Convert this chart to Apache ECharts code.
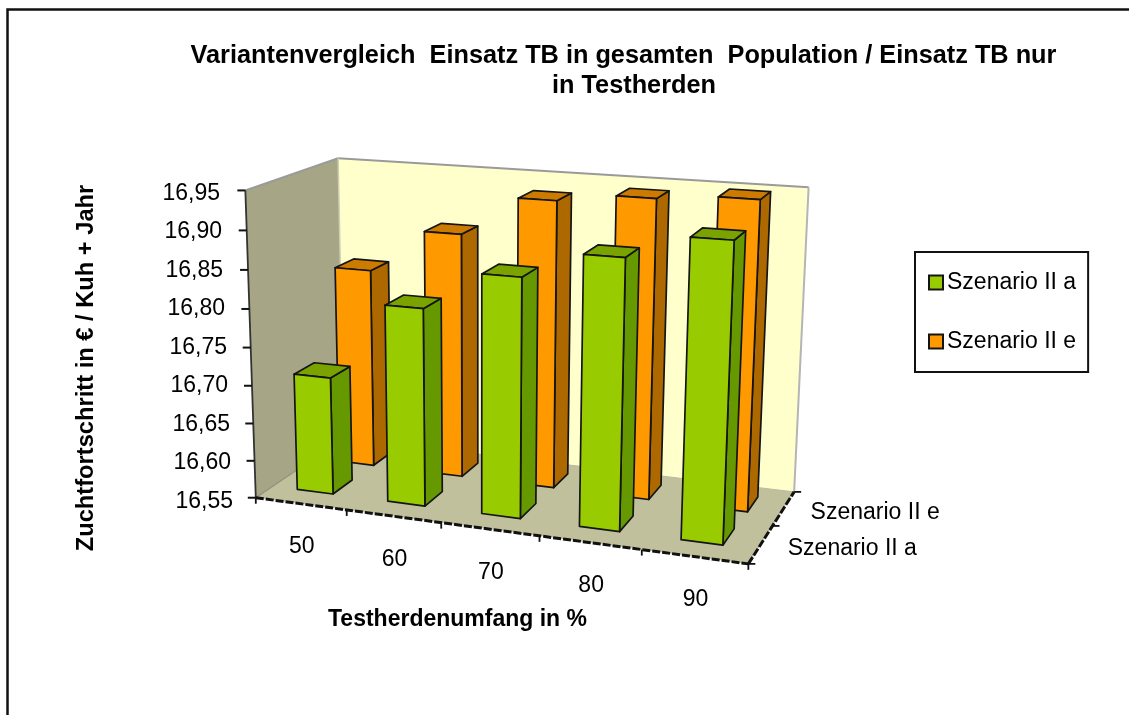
<!DOCTYPE html>
<html><head><meta charset="utf-8">
<style>html,body{margin:0;padding:0;background:#fff}#c{width:1129px;height:715px}</style>
<script src="https://cdn.jsdelivr.net/npm/echarts@6/dist/echarts.min.js"></script>
</head><body><div id="c"></div>
<script>
// ---- data ----
const categories = ['50','60','70','80','90'];
const seriesNames = ['Szenario II a','Szenario II e'];
const valuesA = [16.706,16.808,16.858,16.892,16.922];
const valuesE = [16.82,16.878,16.93,16.941,16.948];
const valueTicks = [16.55,16.60,16.65,16.70,16.75,16.80,16.85,16.90,16.95];
const titleText = 'Variantenvergleich  Einsatz TB in gesamten  Population / Einsatz TB nur   \nin Testherden';
const yTitle = 'Zuchtfortschritt in € / Kuh + Jahr';
const xTitle = 'Testherdenumfang in %';

// ---- view: calibration of the 3D plot box ----
// [u (along categories), v (depth), w (height)] -> [px,py]
const box = [
 [[0,0,0],[257,498]],[[1,0,0],[749,565]],[[1,1,0],[795,492]],[[0,1,0],[345,442]],
 [[0,0,1],[245,190]],[[1,0,1],[766,232]],[[1,1,1],[807,186]],[[0,1,1],[338,158]],
 [[1,1,1],[807,186]],[[1,1,0],[795,492]],
 [[.2,0,0],[345,509]],[[.4,0,0],[440,522]],[[.6,0,0],[538,536]],[[.8,0,0],[640,550]],
 [[1,.5,0],[773,522]],
 [[0,0,.25],[254,423]],[[0,0,.5],[251,347]],[[0,0,.75],[248,268]]
];
// least-squares projective camera
function fitCamera(pts){
  const n=11, A=Array.from({length:n},()=>new Array(n+1).fill(0));
  const add=(r,b)=>{for(let i=0;i<n;i++){for(let j=0;j<n;j++)A[i][j]+=r[i]*r[j];A[i][n]+=r[i]*b;}};
  pts.forEach(([[u,v,w],[x,y]])=>{
    add([u,v,w,1,0,0,0,0,-x*u,-x*v,-x*w],x);
    add([0,0,0,0,u,v,w,1,-y*u,-y*v,-y*w],y);
  });
  for(let i=0;i<n;i++){
    let p=i;for(let k=i+1;k<n;k++)if(Math.abs(A[k][i])>Math.abs(A[p][i]))p=k;
    [A[i],A[p]]=[A[p],A[i]];
    for(let k=0;k<n;k++){if(k===i)continue;const f=A[k][i]/A[i][i];for(let j=i;j<=n;j++)A[k][j]-=f*A[i][j];}
  }
  return A.map((r,i)=>r[n]/r[i]);
}
const C=fitCamera(box);
function P(u,v,w){const d=C[8]*u+C[9]*v+C[10]*w+1;
  return [(C[0]*u+C[1]*v+C[2]*w+C[3])/d,(C[4]*u+C[5]*v+C[6]*w+C[7])/d];}

const FONT='"Liberation Sans", Arial, sans-serif';
const GRID={left:258,top:190,right:1129-749,bottom:715-498};
const BAR_U=0.4, BAR_D=0.22, ROW_V=[0.29,0.755], ROW_U=[-0.005,-0.002];
const colors={a:{front:'#99CC00',side:'#669900',top:'#7AA300'},e:{front:'#FF9900',side:'#AD6800',top:'#CC7A00'}};
const stroke='#141414';

function poly(points,fill,lw,sc){return {type:'polygon',shape:{points},style:{fill,stroke:sc===undefined?stroke:sc,lineWidth:lw===undefined?1.7:lw,lineJoin:'round'}};}
function line(a,b,sc,lw,dash){return {type:'line',shape:{x1:a[0],y1:a[1],x2:b[0],y2:b[1]},style:{stroke:sc||'#111',lineWidth:lw||1.5,lineDash:dash||null}};}
function text(str,x,y,size,align,weight){return {type:'text',style:{text:str,x,y,fill:'#000',font:`${weight||'normal'} ${size}px ${FONT}`,align:align||'center',verticalAlign:'middle'}};}

function hFrac(api,val){ // height 0..1 via the value axis
  const b=api.coord([0,valueTicks[0]])[1], t=api.coord([0,valueTicks[valueTicks.length-1]])[1];
  return (b-api.coord([0,val])[1])/(b-t);
}
function barItem(row,col){
  return function(params,api){
    const i=api.value(0), val=api.value(1), w=hFrac(api,val), n=categories.length;
    const u0=(i+0.5-BAR_U/2)/n+ROW_U[row],u1=(i+0.5+BAR_U/2)/n+ROW_U[row];
    const v0=ROW_V[row]-BAR_D/2,v1=ROW_V[row]+BAR_D/2;
    const f=[P(u0,v0,0),P(u1,v0,0),P(u1,v0,w),P(u0,v0,w)];
    const s=[P(u1,v0,0),P(u1,v1,0),P(u1,v1,w),P(u1,v0,w)];
    const t=[P(u0,v0,w),P(u1,v0,w),P(u1,v1,w),P(u0,v1,w)];
    return {type:'group',children:[poly(s,col.side),poly(t,col.top),poly(f,col.front)]};
  };
}
const LABEL_DX=1,LABEL_DY=43,DEPTH_DX=27,DEPTH_DY=4;
function wallItem(params,api){
  const c=[];
  // walls
  c.push(poly([P(0,1,0),P(1,1,0),P(1,1,1),P(0,1,1)],'#FFFFCC',0,'transparent'));
  c.push(poly([P(0,0,0),P(0,1,0),P(0,1,1),P(0,0,1)],'#A6A686',0,'transparent'));
  c.push(poly([P(0,0,0),P(1,0,0),P(1,1,0),P(0,1,0)],'#C0C09C',0,'transparent'));
  // wall rims
  c.push(line(P(0,0,1),P(0,1,1),'#9a9a9a',2));
  c.push(line(P(0,1,1),P(1,1,1),'#9a9a9a',2));
  c.push(line(P(1,1,1),P(1,1,0),'#b5b5b5',2));
  c.push(line(P(0,1,1),P(0,1,0),'#cfcfb8',1.5));
  c.push(line(P(0,0,0),P(0,1,0),'#8f8f80',1.2));
  c.push(line(P(0,1,0),P(1,1,0),'#b8b8a0',1));
  // axis lines
  c.push(line(P(0,0,1),P(0,0,0),'#333',1.8));
  c.push(line(P(0,0,0),P(1,0,0),'#111',3,[8,2]));
  c.push(line(P(1,0,0),P(1,1,0),'#111',3,[8,2]));
  // value ticks
  valueTicks.forEach(t=>{const p=P(0,0,hFrac(api,t));c.push(line([p[0]-8,p[1]],p,'#111',2));});
  // category ticks & labels
  const n=categories.length;
  for(let i=0;i<=n;i++){const p=P(i/n,0,0);c.push(line(p,[p[0],p[1]+6],'#111',1.8));}
  categories.forEach((s,i)=>{const p=P((i+0.5)/n,0,0);c.push(text(s,p[0]+LABEL_DX,p[1]+LABEL_DY,23));});
  // depth ticks & labels
  [0,0.5,1].forEach(v=>{const p=P(1,v,0);c.push(line(p,[p[0]+7,p[1]],'#111',1.8));});
  seriesNames.forEach((s,r)=>{const p=P(1,(r+0.5)/2,0);c.push(text(s,p[0]+DEPTH_DX,p[1]+DEPTH_DY,23,'left'));});
  return {type:'group',children:c};
}

const chart=echarts.init(document.getElementById('c'),null,{renderer:'canvas'});
// per-tick label shift: the value axis leans with the plot box
const rich={};
valueTicks.forEach((t,i)=>{
  const f=(t-valueTicks[0])/(valueTicks[valueTicks.length-1]-valueTicks[0]);
  const shift=Math.round(1.25*(P(0,0,0)[0]-P(0,0,f)[0]));
  rich['p'+i]={padding:[7,shift,0,0],fontSize:23,color:'#000',fontFamily:FONT};
});
chart.setOption({
  animation:false,
  backgroundColor:'#fff',
  graphic:[{type:'rect',shape:{x:7.5,y:9.5,width:1300,height:900},style:{fill:'none',stroke:'#111',lineWidth:2.5},silent:true}],
  title:{text:titleText,left:634,top:41,padding:0,textAlign:'center',
    textStyle:{fontFamily:FONT,fontWeight:'bold',fontSize:25.3,lineHeight:30,color:'#000'}},
  legend:{data:seriesNames,orient:'vertical',left:915,top:252,padding:[19,12,19,13],itemGap:36,itemWidth:14,itemHeight:14,
    icon:'rect',borderColor:'#111',borderWidth:2,backgroundColor:'#fff',
    textStyle:{fontFamily:FONT,fontSize:23,color:'#000',padding:[0,0,0,-1]}},
  grid:GRID,
  xAxis:{type:'category',data:categories,axisLine:{show:false},axisTick:{show:false},axisLabel:{show:false},splitLine:{show:false},
    name:xTitle,nameLocation:'middle',nameGap:110,nameTextStyle:{fontFamily:FONT,fontWeight:'bold',fontSize:23,color:'#000',padding:[0,92,0,0]}},
  yAxis:{type:'value',min:16.55,max:16.95,interval:0.05,axisLine:{show:false},axisTick:{show:false},splitLine:{show:false},
    axisLabel:{margin:25,
      formatter:(v,i)=>`{p${i}|${v.toFixed(2).replace('.',',')}}`,rich},
    name:yTitle,nameLocation:'middle',nameRotate:90,nameGap:160,
    nameTextStyle:{fontFamily:FONT,fontWeight:'bold',fontSize:23.7,color:'#000',padding:[0,48,0,0]}},
  series:[
    {type:'custom',name:'walls',silent:true,clip:false,z:1,data:[[0,16.55]],renderItem:wallItem,encode:{x:0,y:1}},
    {type:'custom',name:seriesNames[1],clip:false,z:2,itemStyle:{color:colors.e.front,borderColor:stroke,borderWidth:1.5},
      data:valuesE.map((v,i)=>[i,v]),renderItem:barItem(1,colors.e),encode:{x:0,y:1}},
    {type:'custom',name:seriesNames[0],clip:false,z:3,itemStyle:{color:colors.a.front,borderColor:stroke,borderWidth:1.5},
      data:valuesA.map((v,i)=>[i,v]),renderItem:barItem(0,colors.a),encode:{x:0,y:1}}
  ]
});
</script></body></html>
